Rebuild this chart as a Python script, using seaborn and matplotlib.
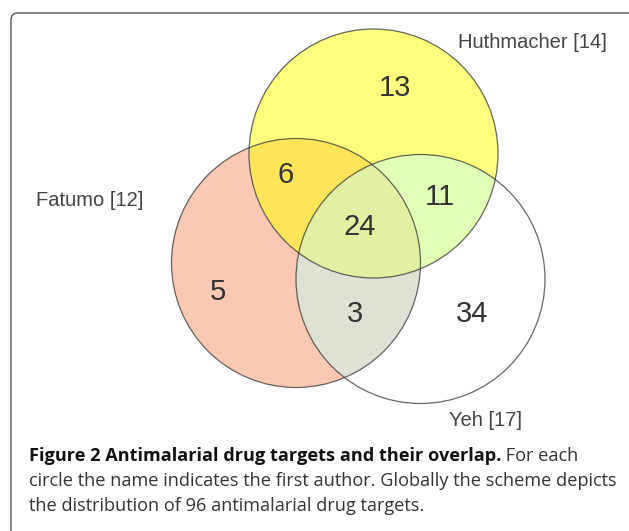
import numpy as np
import matplotlib
matplotlib.use("Agg")
import matplotlib.pyplot as plt
import seaborn as sns
from matplotlib.path import Path
from matplotlib.patches import Circle, FancyBboxPatch

# Venn data: the three studies and the seven region counts
set_names = ["Huthmacher [14]", "Fatumo [12]", "Yeh [17]"]
region_names = ["H only", "F & H", "H & Y", "F & H & Y", "F only", "F & Y", "Y only"]
region_counts = [13, 6, 11, 24, 5, 3, 34]

caption_bold = "Figure 2 Antimalarial drug targets and their overlap."
caption_lines = [
    " For each",
    "circle the name indicates the first author. Globally the scheme depicts",
    "the distribution of 96 antimalarial drug targets.",
]

# layout (pixel coordinates, y down)
circle_xy = [(373.5, 153.5), (296, 263), (420.5, 279)]
radius = 124.5
set_label_xy = [(458, 42), (36, 200), (449, 420)]
region_xy = [(395, 88), (286, 175), (440, 197), (360, 227),
             (218, 292), (355, 314), (472, 314)]

sns.set_theme(style="white")
plt.rcParams["font.family"] = ["Liberation Sans", "DejaVu Sans"]

fig = plt.figure(figsize=(6.29, 5.31), dpi=100)
ax = fig.add_axes([0, 0, 1, 1])
ax.set_xlim(0, 629)
ax.set_ylim(531, 0)
ax.axis("off")

# frame round the figure, cut by the right and bottom edge
ax.add_patch(FancyBboxPatch((11, 13), 700, 600,
                            boxstyle="round,pad=0,rounding_size=7",
                            fill=False, ec="#555555", lw=1.0, zorder=0))


def circle_path(cx, cy, r, n=240):
    t = np.linspace(0, 2 * np.pi, n)
    return Path(np.column_stack([cx + r * np.cos(t), cy + r * np.sin(t)]), closed=True)


huth, fatumo, yeh = circle_xy

# fills
ax.add_patch(Circle(fatumo, radius, fc="#FBC9B3", ec="none", zorder=1))
ax.add_patch(Circle(huth, radius, fc=(1, 1, 0), alpha=0.5, ec="none", zorder=2))
tint = Circle(yeh, radius, fc=(192 / 255, 1, 1), alpha=0.45, ec="none", zorder=3)
ax.add_patch(tint)
union = Path.make_compound_path(circle_path(*huth, radius), circle_path(*fatumo, radius))
tint.set_clip_path(union, ax.transData)

# outlines
for xy in circle_xy:
    ax.add_patch(Circle(xy, radius, fill=False, ec="#333333", lw=0.9,
                        alpha=0.75, zorder=4))

for name, (x, y) in zip(set_names, set_label_xy):
    ax.text(x, y, name, fontsize=14.5, color="#444444", ha="left", va="center", zorder=5)

for count, (x, y) in zip(region_counts, region_xy):
    ax.text(x, y, str(count), fontsize=21, color="#333333", ha="center", va="center", zorder=5)

# caption, sized so the second line spans the same width as in the source
r = fig.canvas.get_renderer()
cap_font = ["Open Sans", "DejaVu Sans"]
probe = ax.text(29, 486, caption_lines[1], fontsize=14, family=cap_font)
w = probe.get_window_extent(r).width
probe.remove()
cap_size = 14 * 589 / w

b = ax.text(29, 461, caption_bold, fontsize=cap_size, family=cap_font,
            fontweight="bold", color="#111111", va="baseline")
bx = b.get_window_extent(r).x1
ax.text(bx, 461, caption_lines[0], fontsize=cap_size, family=cap_font,
        color="#333333", va="baseline")
ax.text(29, 486, caption_lines[1], fontsize=cap_size, family=cap_font,
        color="#333333", va="baseline")
ax.text(29, 511, caption_lines[2], fontsize=cap_size, family=cap_font,
        color="#333333", va="baseline")

fig.savefig("out.png", dpi=100, facecolor="white")
